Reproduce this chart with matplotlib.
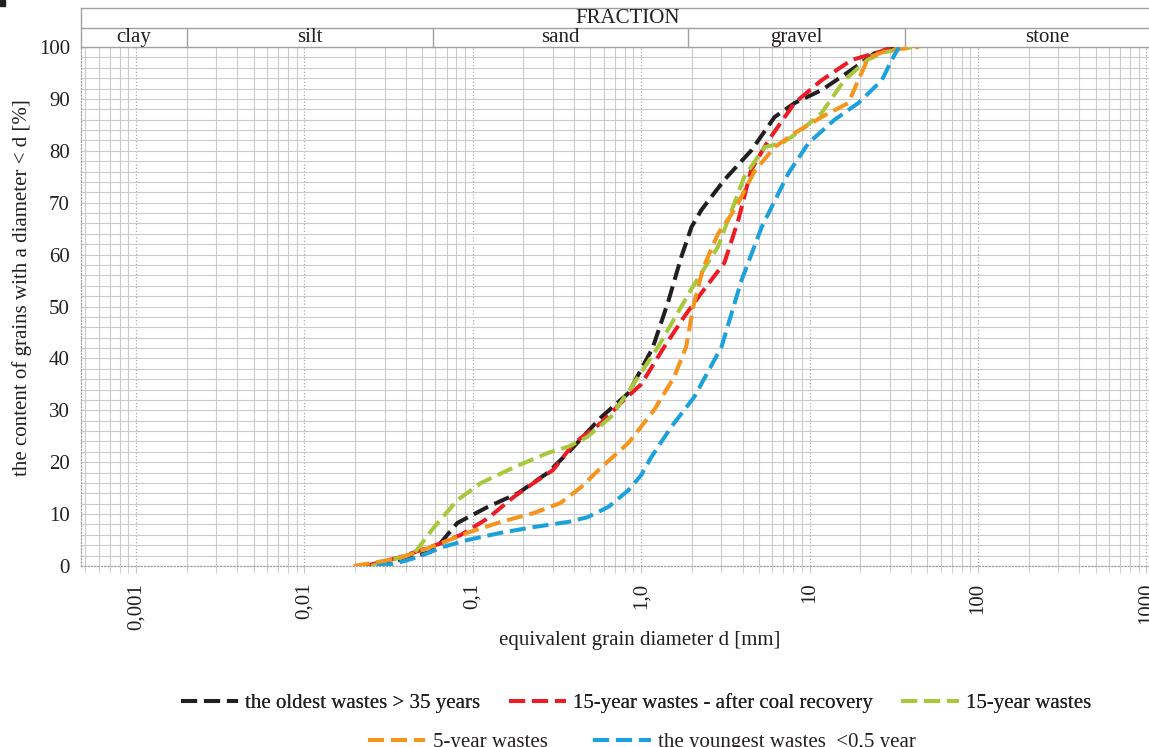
import matplotlib.pyplot as plt
import numpy as np
from matplotlib.lines import Line2D
from matplotlib.transforms import blended_transform_factory

plt.rcParams['font.family'] = ['Liberation Serif', 'DejaVu Serif']
plt.rcParams['text.color'] = '#231f20'

# grain size curves, d in mm and % passing
oldest_d = [0.0265, 0.037, 0.056, 0.065, 0.081, 0.123, 0.185, 0.28, 0.38, 0.58, 0.84, 1.17,
            1.45, 1.73, 1.99, 2.28, 3.12, 4.52, 6.2, 8.15, 11.8, 17.8, 24.4, 32]
oldest_p = [0, 1.2, 2.7, 4.6, 8.3, 11.4, 14, 18, 22.3, 28.7, 33.3, 42,
            51, 59.5, 65.3, 68.6, 74.4, 80.1, 86.5, 89.2, 91.7, 95.6, 98.8, 100]

coal_d = [0.023, 0.037, 0.065, 0.085, 0.123, 0.175, 0.23, 0.30, 0.40, 0.58, 0.79, 1.0, 1.37,
          1.8, 2.28, 3.12, 3.78, 4.5, 5.7, 8.15, 11.8, 17.8, 25.6, 32]
coal_p = [0, 1.7, 4.4, 6, 9.2, 13.3, 16, 18.5, 23.7, 27.6, 32, 35, 42.2,
          48, 52.6, 58.4, 66.7, 76.3, 82, 89.2, 93.6, 97.5, 99, 100]

y15_d = [0.025, 0.045, 0.059, 0.081, 0.112, 0.175, 0.28, 0.37, 0.48, 0.66, 0.91, 1.26, 2.0,
         2.86, 4.1, 5.4, 6.9, 8.95, 11.8, 16.1, 22, 27.9, 40.5]
y15_p = [0, 2.5, 7.5, 12.7, 16, 19, 21.8, 23, 24.9, 28.7, 35.3, 42.2, 53.5,
         61.5, 75, 80.7, 81.5, 84, 87.3, 93.6, 97.5, 99, 100]

y5_d = [0.0196, 0.037, 0.065, 0.093, 0.147, 0.23, 0.33, 0.44, 0.58, 0.84, 1.19, 1.57, 1.85,
        2.04, 2.34, 2.86, 3.4, 3.78, 4.7, 6.2, 8.15, 11.8, 17, 19.5, 22.4, 29.5, 44.6]
y5_p = [0, 1.5, 4.4, 6.4, 8.5, 10.2, 12.1, 15.2, 19, 23.7, 30, 36.4, 42.2,
        50, 57.5, 64, 67.5, 70, 76, 80.7, 83.4, 86.5, 89.2, 93.6, 98, 99.4, 100]

young_d = [0.027, 0.035, 0.047, 0.067, 0.093, 0.147, 0.23, 0.37, 0.48, 0.64, 0.84, 1.0, 1.15,
           1.51, 2.07, 3.0, 3.94, 5.2, 7.5, 9.87, 14.1, 19.5, 26.9, 30.8, 34]
young_p = [0, 0.5, 1.7, 3.7, 5, 6.4, 7.5, 8.5, 9.4, 11.4, 14.6, 17.5, 21,
           26.8, 32.6, 42.2, 55, 65.3, 75.7, 81.5, 86, 89.2, 93.6, 97.5, 100]

series = [
    ('the oldest wastes > 35 years', oldest_d, oldest_p, '#231f20'),
    ('15-year wastes - after coal recovery', coal_d, coal_p, '#ed1c24'),
    ('15-year wastes', y15_d, y15_p, '#a6c83a'),
    ('5-year wastes', y5_d, y5_p, '#f7941d'),
    ('the youngest wastes  <0,5 year', young_d, young_p, '#1ba1dc'),
]

fraction_names = ['clay', 'silt', 'sand', 'gravel', 'stone']
fraction_bounds = [0.002, 0.058, 1.9, 37]

x_ticks = [0.001, 0.01, 0.1, 1, 10, 100, 1000]
x_ticklabels = ['0,001', '0,01', '0,1', '1,0', '10', '100', '1000']

W, H = 1149, 747
fig = plt.figure(figsize=(W / 100, H / 100), dpi=100)
# axes runs past the right edge of the figure (chart is cropped)
ax = fig.add_axes([81 / W, (H - 566) / H, (1190 - 81) / W, 519 / H])
ax.set_xscale('log')
x_left, x_right = 10 ** -3.327, 10 ** 3.26
ax.set_xlim(x_left, x_right)
ax.set_ylim(0, 100)

grid_c = '#cacaca'
ax.set_xticks(x_ticks)
ax.set_xticklabels(x_ticklabels, rotation=90, fontsize=15)
minor_x = [m * 10.0 ** e for e in range(-4, 4) for m in range(2, 10)]
ax.set_xticks([v for v in minor_x if x_left < v < x_right], minor=True)
ax.set_yticks(range(0, 101, 10))
ax.set_yticks(range(0, 101, 2), minor=True)
ax.tick_params(axis='y', which='both', length=0, pad=8, labelsize=15, labelcolor='#231f20')
ax.tick_params(axis='x', which='both', length=5, color=grid_c, pad=7, labelcolor='#231f20')
ax.tick_params(axis='x', which='minor', labelbottom=False)

ax.grid(True, which='minor', axis='x', color=grid_c, lw=0.8, ls='-')
ax.grid(True, which='major', axis='x', color='#a8a8a8', lw=0.9, ls=':')
ax.grid(True, which='both', axis='y', color=grid_c, lw=0.8, ls='-')
ax.set_axisbelow(True)

for s in ['left', 'bottom']:
    ax.spines[s].set_color('#a0a0a0')
    ax.spines[s].set_linestyle(':')
    ax.spines[s].set_linewidth(0.9)
ax.spines['top'].set_color('#a0a0a0')
ax.spines['top'].set_linewidth(1.0)
ax.spines['right'].set_visible(False)

lw = 2.9
dash = (4, 1.7)
for name, d, p, c in series:
    ax.plot(d, p, color=c, lw=lw, dashes=dash, dash_capstyle='butt', zorder=3)

# fraction header above the plot
tr = blended_transform_factory(ax.transData, ax.transAxes)
y_mid = (566 - 28) / 519
y_top = (566 - 8) / 519
hc = '#a0a0a0'
ax.plot([x_left, x_right], [y_mid, y_mid], transform=tr, color=hc, lw=1.0, clip_on=False)
ax.plot([x_left, x_right], [y_top, y_top], transform=tr, color=hc, lw=1.0, clip_on=False)
ax.plot([x_left, x_left], [1, y_top], transform=tr, color=hc, lw=1.0, clip_on=False)
for b in fraction_bounds:
    ax.plot([b, b], [1, y_mid], transform=tr, color=hc, lw=1.0, clip_on=False)
edges = [x_left] + fraction_bounds + [x_right]
for i, name in enumerate(fraction_names):
    xc = np.sqrt(edges[i] * edges[i + 1])
    ax.text(xc, (1 + y_mid) / 2, name, transform=tr, ha='center', va='center', fontsize=15)
ax.text(0.493, (y_mid + y_top) / 2, 'FRACTION', transform=ax.transAxes,
        ha='center', va='center', fontsize=15)

fig.text(640 / W, 1 - 640 / H, 'equivalent grain diameter d [mm]', ha='center', va='center',
         fontsize=15)
fig.text(22 / W, 1 - 288 / H, 'the content of grains with a diameter < d [%]', rotation=90,
         ha='center', va='center', fontsize=15)

# small black mark in the top-left corner of the original
fig.patches.append(plt.Rectangle((0, 1 - 6 / H), 5 / W, 6 / H, transform=fig.transFigure,
                                 color='#231f20'))

handles = [Line2D([], [], color=c, lw=lw, dashes=dash, dash_capstyle='butt')
           for _, _, _, c in series]
labels = [s[0] for s in series]
leg1 = fig.legend(handles[:3], labels[:3], loc='center', bbox_to_anchor=(636 / W, 1 - 703 / H),
                  ncol=3, frameon=False, fontsize=15, handlelength=2.75, handletextpad=0.35,
                  columnspacing=1.35)
fig.add_artist(leg1)
fig.legend(handles[3:], labels[3:], loc='center', bbox_to_anchor=(642 / W, 1 - 742 / H),
           ncol=2, frameon=False, fontsize=15, handlelength=2.75, handletextpad=0.35,
           columnspacing=2.2)

fig.savefig('out.png', dpi=100)
